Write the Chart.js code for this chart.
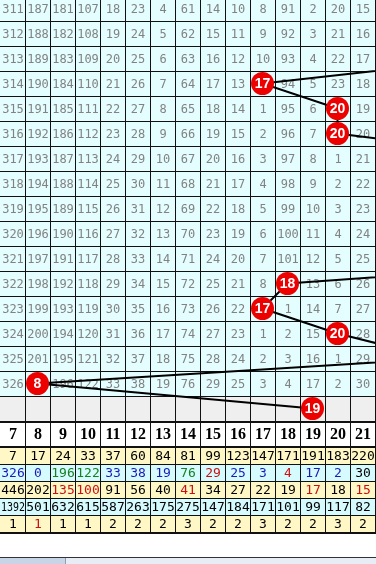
<!DOCTYPE html>
<html>
<head>
<meta charset="utf-8">
<script src="https://cdn.jsdelivr.net/npm/chart.js@4.4.1/dist/chart.umd.min.js"></script>
<style>
  html, body { margin: 0; padding: 0; background: #fff; overflow: hidden; }
  #wrap { width: 376px; height: 557px; }
  #bar { height: 6px; border-top: 1px solid #333; background: #e8edf5; display: flex; }
  #bar .tab { width: 65px; background: #c8d5e6; border-right: 1px solid #8e9db2; }
</style>
</head>
<body>
<div id="wrap"><canvas id="trend" width="376" height="557"></canvas></div>
<div id="bar"><div class="tab"></div></div>
<script>
// ---- data ----
const numbers = [7, 8, 9, 10, 11, 12, 13, 14, 15, 16, 17, 18, 19, 20, 21];
const issues = [311, 312, 313, 314, 315, 316, 317, 318, 319, 320, 321, 322, 323, 324, 325, 326, 327];

// miss count per issue row (0 = hit, drawn as a ball)
const missRows = [
  [311, 187, 181, 107, 18, 23, 4, 61, 14, 10, 8, 91, 2, 20, 15],
  [312, 188, 182, 108, 19, 24, 5, 62, 15, 11, 9, 92, 3, 21, 16],
  [313, 189, 183, 109, 20, 25, 6, 63, 16, 12, 10, 93, 4, 22, 17],
  [314, 190, 184, 110, 21, 26, 7, 64, 17, 13, 0, 94, 5, 23, 18],
  [315, 191, 185, 111, 22, 27, 8, 65, 18, 14, 1, 95, 6, 0, 19],
  [316, 192, 186, 112, 23, 28, 9, 66, 19, 15, 2, 96, 7, 0, 20],
  [317, 193, 187, 113, 24, 29, 10, 67, 20, 16, 3, 97, 8, 1, 21],
  [318, 194, 188, 114, 25, 30, 11, 68, 21, 17, 4, 98, 9, 2, 22],
  [319, 195, 189, 115, 26, 31, 12, 69, 22, 18, 5, 99, 10, 3, 23],
  [320, 196, 190, 116, 27, 32, 13, 70, 23, 19, 6, 100, 11, 4, 24],
  [321, 197, 191, 117, 28, 33, 14, 71, 24, 20, 7, 101, 12, 5, 25],
  [322, 198, 192, 118, 29, 34, 15, 72, 25, 21, 8, 0, 13, 6, 26],
  [323, 199, 193, 119, 30, 35, 16, 73, 26, 22, 0, 1, 14, 7, 27],
  [324, 200, 194, 120, 31, 36, 17, 74, 27, 23, 1, 2, 15, 0, 28],
  [325, 201, 195, 121, 32, 37, 18, 75, 28, 24, 2, 3, 16, 1, 29],
  [326, 0, 196, 122, 33, 38, 19, 76, 29, 25, 3, 4, 17, 2, 30]
];

// drawn number per issue (null = not visible / unknown; >21 lies off to the right)
const drawNumbers = [null, null, 26, 17, 20, 20, 28, null, null, null, 32, 18, 17, 20, 24, 8, 19];

// statistics rows under the header
const appearCount = [7, 17, 24, 33, 37, 60, 84, 81, 99, 123, 147, 171, 191, 183, 220];
const currentMiss = [326, 0, 196, 122, 33, 38, 19, 76, 29, 25, 3, 4, 17, 2, 30];
const maxMiss = [446, 202, 135, 100, 91, 56, 40, 41, 34, 27, 22, 19, 17, 18, 15];
const missSum = [1392, 501, 632, 615, 587, 263, 175, 275, 147, 184, 171, 101, 99, 117, 82];
const maxStreak = [1, 1, 1, 1, 2, 2, 2, 3, 2, 2, 3, 2, 2, 3, 2];

// text tones for the stats rows (k black, b blue, g green, r red)
const currentMissTone = ['b', 'b', 'g', 'g', 'b', 'b', 'b', 'g', 'r', 'b', 'b', 'r', 'b', 'b', 'k'];
const maxMissTone = ['k', 'k', 'r', 'r', 'k', 'k', 'k', 'r', 'k', 'k', 'k', 'k', 'r', 'k', 'r'];
const maxStreakTone = ['k', 'r', 'k', 'k', 'k', 'k', 'k', 'k', 'k', 'k', 'k', 'k', 'k', 'k', 'k'];

// ---- look ----
const TONES = { k: '#000', b: '#1a1ab8', g: '#17801f', r: '#cc1010' };
const GRID_BG = '#e4feff';
const DRAW_BG = '#efefef';
const YELLOW = '#fff7c6';
const CYAN = '#d6fbff';
const LINE = '#111';
const BALL_RED = '#ec0000';
const HEADER_H = 1.04;   // header row height in issue-row units
const STAT_H = 0.68;     // stats row height in issue-row units
const Y_MIN = 310.66;
const PLOT_H = 534;

const statRows = [
  { values: appearCount, bg: YELLOW, tones: null },
  { values: currentMiss, bg: CYAN, tones: currentMissTone },
  { values: maxMiss, bg: YELLOW, tones: maxMissTone },
  { values: missSum, bg: CYAN, tones: null },
  { values: maxStreak, bg: YELLOW, tones: maxStreakTone }
];

const lastIssue = issues[issues.length - 1];
const headerTop = lastIssue + 0.5;
const statsTop = headerTop + HEADER_H;

const hitPoints = issues.map((iss, i) => ({ x: drawNumbers[i], y: iss }));

const tablePlugin = {
  id: 'trendTable',
  beforeDatasetsDraw(chart) {
    const { ctx, scales: { x, y } } = chart;
    const colL = n => Math.round(x.getPixelForValue(n - 0.5));
    const colR = n => Math.round(x.getPixelForValue(n + 0.5));
    const py = v => Math.round(y.getPixelForValue(v));
    ctx.save();

    // issue rows
    issues.forEach((iss, r) => {
      const top = py(iss - 0.5), bot = py(iss + 0.5);
      ctx.fillStyle = r < missRows.length ? GRID_BG : DRAW_BG;
      ctx.fillRect(0, top, chart.width, bot - top);
      if (r >= missRows.length) return;
      ctx.font = '12px "DejaVu Sans Mono"';
      ctx.fillStyle = '#828282';
      ctx.textAlign = 'center';
      ctx.textBaseline = 'middle';
      numbers.forEach((n, c) => {
        const v = missRows[r][c];
        if (v === 0) return;
        ctx.fillText(String(v), (colL(n) + colR(n)) / 2 + 0.5, (top + bot) / 2 + 1, 24);
      });
    });

    // header row
    const hTop = py(headerTop), hBot = py(statsTop);
    ctx.fillStyle = '#fff';
    ctx.fillRect(0, hTop, chart.width, hBot - hTop);
    ctx.font = 'bold 16px "Liberation Serif"';
    ctx.fillStyle = '#000';
    numbers.forEach(n => {
      ctx.fillText(String(n), (colL(n) + colR(n)) / 2 + 0.5, (hTop + hBot) / 2 + 1);
    });

    // stats rows
    statRows.forEach((row, k) => {
      const top = py(statsTop + k * STAT_H), bot = py(statsTop + (k + 1) * STAT_H);
      ctx.fillStyle = row.bg;
      ctx.fillRect(0, top, chart.width, bot - top);
      ctx.font = '13px "DejaVu Sans Mono"';
      numbers.forEach((n, c) => {
        ctx.fillStyle = TONES[row.tones ? row.tones[c] : 'k'];
        ctx.fillText(String(row.values[c]), (colL(n) + colR(n)) / 2 + 0.5, (top + bot) / 2 + 1, 24);
      });
    });

    // grid lines
    const tableBot = py(statsTop + statRows.length * STAT_H);
    ctx.strokeStyle = LINE;
    ctx.lineWidth = 1;
    ctx.beginPath();
    numbers.forEach(n => {
      const xr = colR(n) + 0.5;
      ctx.moveTo(xr, 0);
      ctx.lineTo(xr, tableBot);
    });
    issues.forEach(iss => {
      const yb = py(iss + 0.5) + 0.5;
      ctx.moveTo(0, yb);
      ctx.lineTo(chart.width, yb);
    });
    for (let k = 1; k < statRows.length; k++) {
      const yb = py(statsTop + k * STAT_H) + 0.5;
      ctx.moveTo(0, yb);
      ctx.lineTo(chart.width, yb);
    }
    ctx.stroke();
    ctx.lineWidth = 2;
    ctx.beginPath();
    ctx.moveTo(0, hTop + 1); ctx.lineTo(chart.width, hTop + 1);
    ctx.moveTo(0, hBot); ctx.lineTo(chart.width, hBot);
    ctx.moveTo(0, tableBot + 1); ctx.lineTo(chart.width, tableBot + 1);
    ctx.stroke();
    ctx.restore();
  },
  afterDatasetsDraw(chart) {
    const { ctx, chartArea } = chart;
    const meta = chart.getDatasetMeta(0);
    ctx.save();
    ctx.font = 'bold 14px "Liberation Sans"';
    ctx.fillStyle = '#fff';
    ctx.textAlign = 'center';
    ctx.textBaseline = 'middle';
    meta.data.forEach((pt, i) => {
      const n = drawNumbers[i];
      if (n === null || pt.skip || pt.x > chartArea.right) return;
      ctx.fillText(String(n), pt.x, pt.y + 1);
    });
    ctx.restore();
  }
};

new Chart(document.getElementById('trend'), {
  type: 'scatter',
  data: {
    datasets: [
      {
        label: 'hits',
        data: hitPoints,
        order: 1,
        pointStyle: 'circle',
        pointRadius: 11.5,
        pointBackgroundColor: BALL_RED,
        pointBorderWidth: 0
      },
      {
        label: 'trend',
        data: hitPoints,
        order: 2,
        showLine: true,
        spanGaps: false,
        borderColor: '#000',
        borderWidth: 2,
        pointRadius: 0
      }
    ]
  },
  options: {
    responsive: false,
    animation: false,
    devicePixelRatio: 1,
    layout: { autoPadding: false, padding: { left: 0, right: 1, top: 0, bottom: 557 - PLOT_H } },
    plugins: { legend: { display: false }, tooltip: { enabled: false } },
    scales: {
      x: { type: 'linear', min: numbers[0] - 0.5, max: numbers[numbers.length - 1] + 0.5, display: false },
      y: { type: 'linear', reverse: true, min: Y_MIN, max: Y_MIN + PLOT_H / 25, display: false }
    }
  },
  plugins: [tablePlugin]
});
</script>
</body>
</html>
